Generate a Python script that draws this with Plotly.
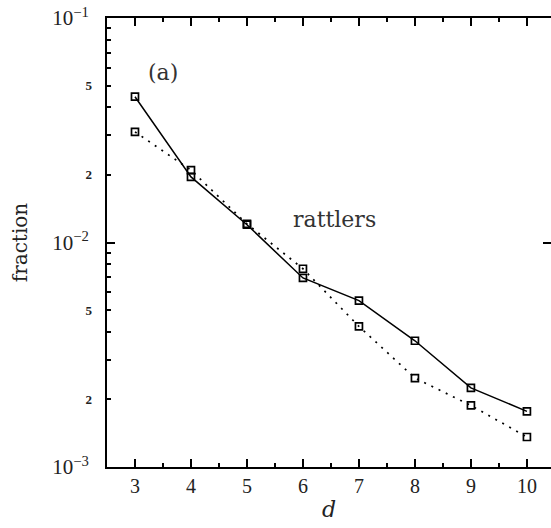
import plotly.graph_objects as go

d_values = [3, 4, 5, 6, 7, 8, 9, 10]
solid_fraction = [0.0446, 0.0196, 0.0120, 0.00695, 0.00551, 0.00365, 0.00225, 0.00177]
dotted_fraction = [0.0311, 0.0210, 0.0121, 0.00764, 0.00423, 0.00249, 0.00188, 0.00136]

x_ticks = [3, 4, 5, 6, 7, 8, 9, 10]
y_decades = [1e-3, 1e-2, 1e-1]
y_decade_text = ["10<sup>−3</sup>", "10<sup>−2</sup>", "10<sup>−1</sup>"]
y_small_vals = [2e-3, 5e-3, 2e-2, 5e-2]
y_small_text = ["2", "5", "2", "5"]
y_minor = [k * 10.0 ** e for e in (-3, -2) for k in range(2, 10)]
x_minor = [2.5 + 0.5 * i for i in range(0, 17)]

fig = go.Figure()
fig.add_trace(go.Scatter(
    x=d_values, y=solid_fraction, mode="lines+markers",
    line=dict(color="black", width=1.5),
    marker=dict(symbol="square-open", size=7, color="black", line=dict(width=1.7)),
    showlegend=False))
fig.add_trace(go.Scatter(
    x=d_values, y=dotted_fraction, mode="lines+markers",
    line=dict(color="black", width=1.7, dash="2px,6px"),
    marker=dict(symbol="square-open", size=7, color="black", line=dict(width=1.7)),
    showlegend=False))
# invisible helper traces for the overlay axes
for ax in ("y2", "y3"):
    fig.add_trace(go.Scatter(x=[d_values[0]], y=[solid_fraction[0]], yaxis=ax,
                             mode="markers", marker=dict(opacity=0), showlegend=False,
                             hoverinfo="skip"))

serif_num = "Liberation Serif"
serif_txt = "DejaVu Serif"

fig.update_layout(
    width=551, height=528,
    margin=dict(l=107, r=0, t=18, b=61),
    paper_bgcolor="white", plot_bgcolor="white",
    xaxis=dict(
        range=[2.5, 10.43], showgrid=False, zeroline=False,
        showline=True, linecolor="black", linewidth=2, mirror="ticks",
        ticks="inside", ticklen=8, tickwidth=1.5, tickcolor="black",
        tickvals=x_ticks, ticktext=[str(v) for v in x_ticks],
        tickfont=dict(family=serif_num, size=20, color="#222"),
        ticklabelstandoff=0,
        minor=dict(ticks="inside", ticklen=4, tickwidth=1.5, tickcolor="black",
                   tickvals=x_minor, showgrid=False),
        title=dict(text="<i>d</i>", font=dict(family=serif_txt, size=22, color="#222"),
                   standoff=6),
    ),
    yaxis=dict(
        type="log", range=[-3, -1], showgrid=False, zeroline=False,
        showline=True, linecolor="black", linewidth=2, mirror=False,
        ticks="inside", ticklen=8, tickwidth=1.5, tickcolor="black",
        tickvals=y_decades, ticktext=y_decade_text,
        tickfont=dict(family=serif_num, size=21, color="#222"),
        ticklabelstandoff=12,
        minor=dict(ticks="inside", ticklen=4, tickwidth=1.5, tickcolor="black",
                   tickvals=y_minor, showgrid=False),
        title=dict(text="fraction", font=dict(family=serif_txt, size=20, color="#222"),
                   standoff=19),
    ),
    yaxis2=dict(
        type="log", range=[-3, -1], overlaying="y", side="right", anchor="x",
        showgrid=False, zeroline=False, showline=False,
        ticks="inside", ticklen=8, tickwidth=1.5, tickcolor="black",
        tickvals=[1e-2], showticklabels=False,
    ),
    yaxis3=dict(
        type="log", range=[-3, -1], overlaying="y", side="left", anchor="x",
        showgrid=False, zeroline=False, showline=False, ticks="",
        tickvals=y_small_vals, ticktext=y_small_text,
        tickfont=dict(family=serif_num, size=13, color="#222", weight="bold"),
        ticklabelstandoff=14,
    ),
    annotations=[
        dict(x=3.5, y=-1.241, xref="x", yref="y", text="(a)", showarrow=False,
             font=dict(family=serif_txt, size=22, color="#333")),
        dict(x=6.57, y=-1.897, xref="x", yref="y", text="rattlers", showarrow=False,
             font=dict(family=serif_txt, size=22, color="#333")),
    ],
)

fig.write_html("out.html")
